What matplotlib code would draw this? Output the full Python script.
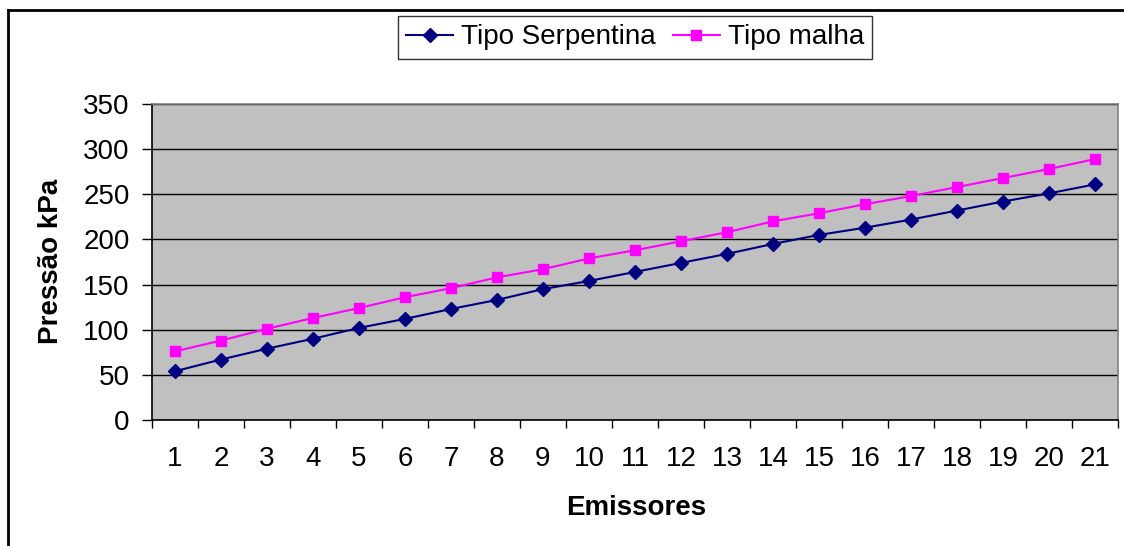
import matplotlib
matplotlib.use("Agg")
import matplotlib.pyplot as plt
from matplotlib.lines import Line2D

plt.rcParams['font.family'] = ['Liberation Sans', 'DejaVu Sans']

emissores = list(range(1, 22))
serpentina = [54, 67, 79, 90, 102, 112, 123, 133, 145, 154, 164,
              174, 184, 195, 205, 213, 222, 232, 242, 251, 261]
malha = [76, 88, 101, 113, 124, 136, 146, 158, 167, 179, 188,
         198, 208, 220, 229, 239, 248, 258, 268, 278, 289]
y_ticks = [0, 50, 100, 150, 200, 250, 300, 350]

W, H = 1124, 546
fig = plt.figure(figsize=(W / 100, H / 100), dpi=100)
fig.patch.set_facecolor('white')

left, right, top, bottom = 152, 1118, 104, 420
ax = fig.add_axes([left / W, 1 - bottom / H, (right - left) / W, (bottom - top) / H])
ax.set_facecolor('#C0C0C0')

ax.plot(emissores, serpentina, color='#000080', lw=1.5, marker='D', ms=7.5,
        mec='#000080', mfc='#000080', label='Tipo Serpentina', zorder=3)
ax.plot(emissores, malha, color='#FF00FF', lw=1.5, marker='s', ms=7.5,
        mec='#FF00FF', mfc='#FF00FF', label='Tipo malha', zorder=3)

ax.set_xlim(0.5, len(emissores) + 0.5)
ax.set_ylim(0, 350)
ax.set_yticks(y_ticks)
ax.set_xticks(emissores)
ax.set_xticks([i + 0.5 for i in range(0, len(emissores) + 1)], minor=True)
ax.tick_params(axis='x', which='major', length=0, pad=19, labelsize=20)
ax.tick_params(axis='x', which='minor', length=6, width=1, direction='out', color='black')
ax.tick_params(axis='y', which='major', length=7, width=1, direction='out', pad=9, labelsize=20)

ax.grid(axis='y', color='black', lw=1)
ax.set_axisbelow(True)
for side in ('left', 'bottom'):
    ax.spines[side].set_color('black')
    ax.spines[side].set_linewidth(1.2)
for side in ('top', 'right'):
    ax.spines[side].set_color('#808080')
    ax.spines[side].set_linewidth(1.2)

fig.text(51 / W, 1 - 261 / H, 'Pressão kPa', rotation=90, ha='center', va='center',
         fontsize=20, fontweight='bold')
fig.text(636 / W, 1 - 508 / H, 'Emissores', ha='center', va='center',
         fontsize=20, fontweight='bold')

leg = fig.legend(loc='center', bbox_to_anchor=(635 / W, 1 - 37.5 / H), ncol=2,
                 fontsize=20, frameon=True, fancybox=False, shadow=False,
                 handlelength=1.7, handletextpad=0.29, columnspacing=0.6,
                 borderpad=0.3, borderaxespad=0)
leg.get_frame().set_edgecolor('black')
leg.get_frame().set_linewidth(1)

# chart frame
fig.add_artist(Line2D([8 / W, 8 / W], [0, 1 - 10 / H], transform=fig.transFigure,
                      color='black', lw=2))
fig.add_artist(Line2D([8 / W, 1], [1 - 10 / H, 1 - 10 / H], transform=fig.transFigure,
                      color='black', lw=2))

fig.savefig('out.png', dpi=100)
